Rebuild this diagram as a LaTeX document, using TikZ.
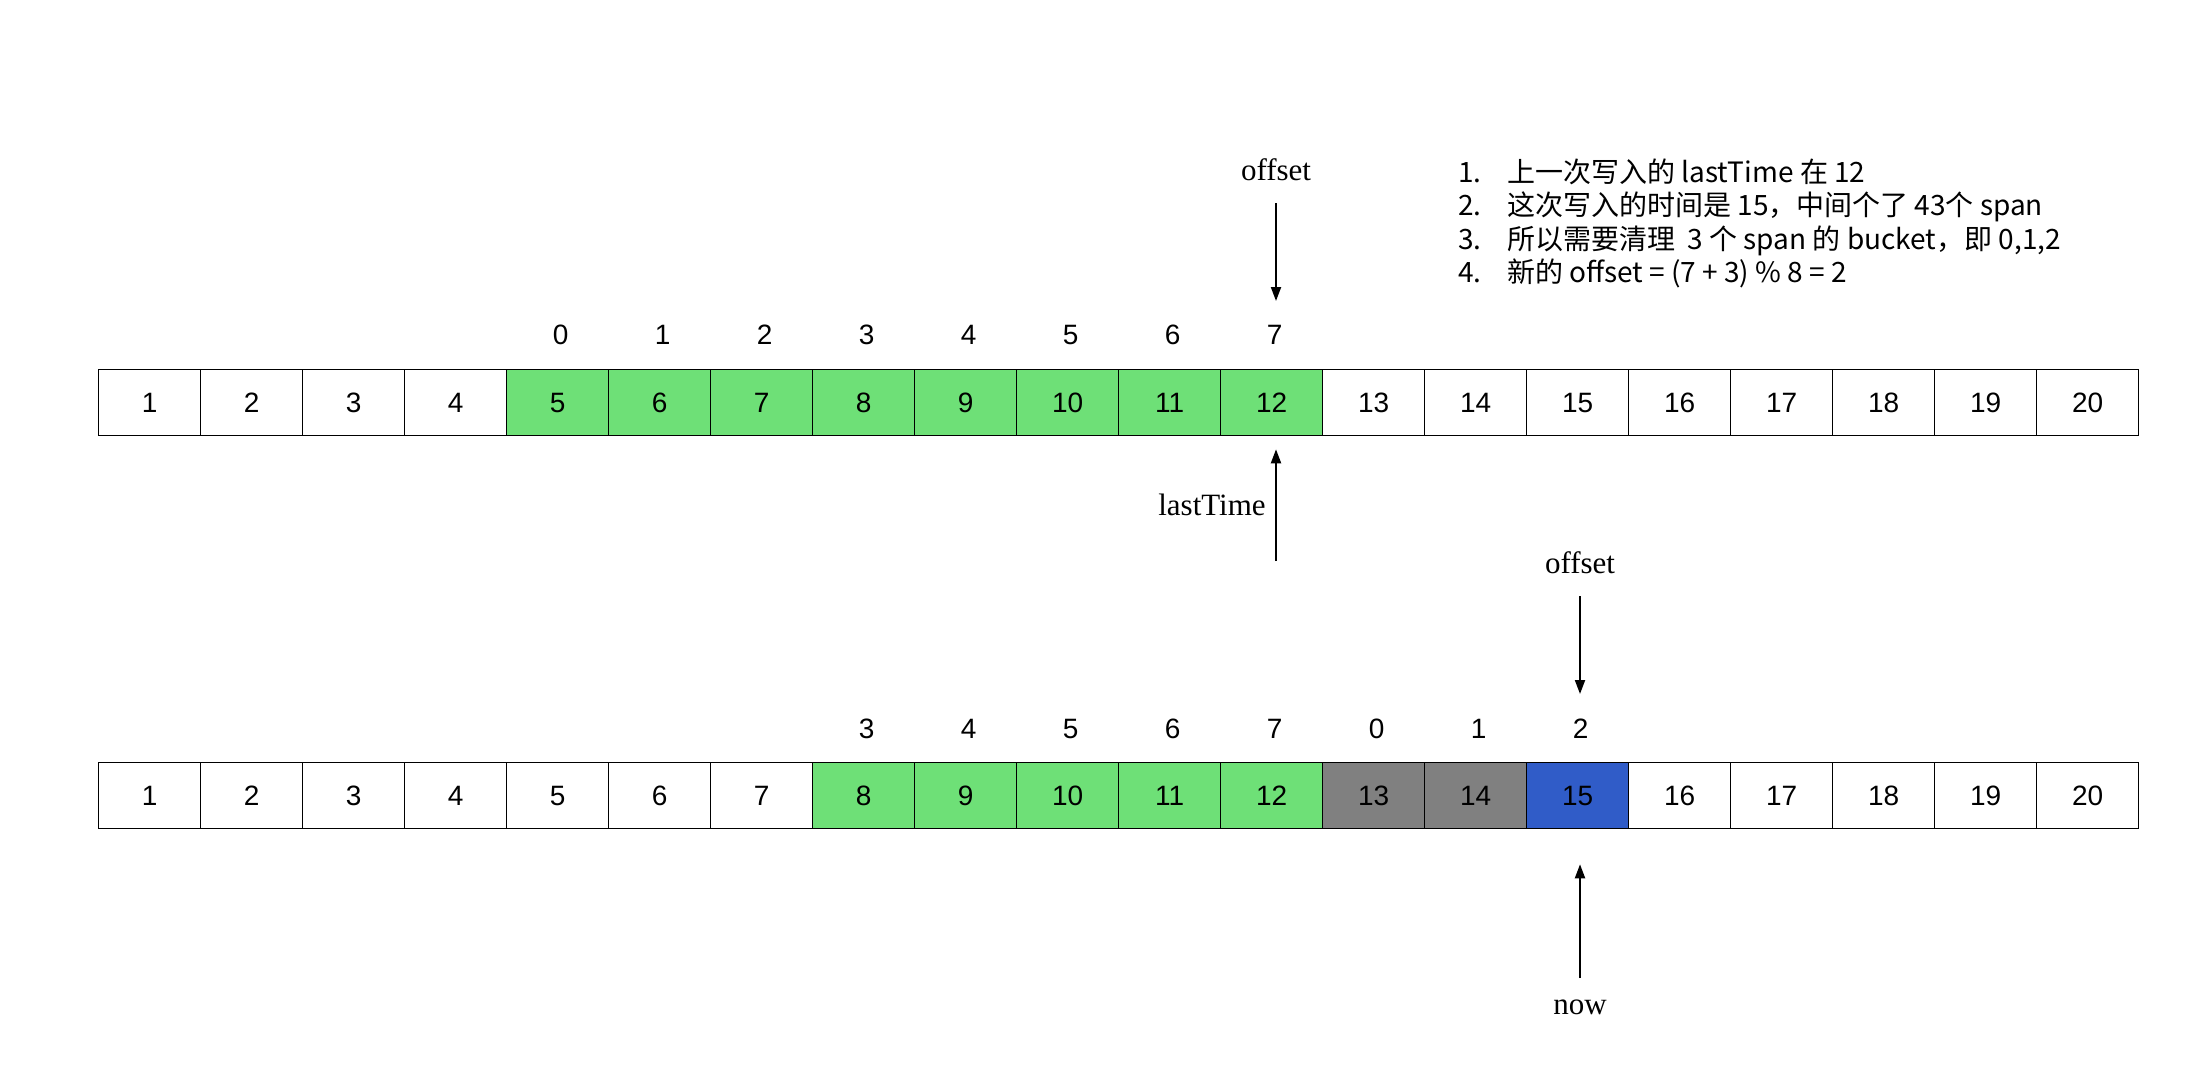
\documentclass[tikz,border=0pt]{standalone}
\usepackage{fontspec}
\setmainfont{Liberation Serif}
\setsansfont{Liberation Sans}
\newfontfamily\cjk{Noto Sans CJK SC}
\usetikzlibrary{arrows.meta,calc}
\definecolor{cgreen}{HTML}{6EE077}
\definecolor{cgray}{HTML}{808080}
\definecolor{cblue}{HTML}{305CC8}
\begin{document}
\begin{tikzpicture}[x=1pt,y=-1pt,
  cell/.style={draw=black, line width=1.3pt, minimum width=102pt, minimum height=66pt, inner sep=0pt, anchor=north west, font=\sffamily\fontsize{28}{28}\selectfont},
  idx/.style={inner sep=0pt, font=\sffamily\fontsize{28}{28}\selectfont},
  lbl/.style={inner sep=0pt, font=\fontsize{31}{31}\selectfont},
  note/.style={inner sep=0pt, anchor=base west, font=\cjk\fontsize{28}{28}\selectfont},
  arr/.style={-{Triangle[length=14pt,width=10pt]}, line width=2pt}]
\useasboundingbox (0,0) rectangle (2188,1084);
\fill[white] (0,0) rectangle (2188,1084);
% row 1
\foreach \i/\c in {1/white,2/white,3/white,4/white,5/cgreen,6/cgreen,7/cgreen,8/cgreen,9/cgreen,10/cgreen,11/cgreen,12/cgreen,13/white,14/white,15/white,16/white,17/white,18/white,19/white,20/white}
  \node[cell, fill=\c] (a\i) at ({98+(\i-1)*102},369) {\i};
% row 2
\foreach \i/\c in {1/white,2/white,3/white,4/white,5/white,6/white,7/white,8/cgreen,9/cgreen,10/cgreen,11/cgreen,12/cgreen,13/cgray,14/cgray,15/cblue,16/white,17/white,18/white,19/white,20/white}
  \node[cell, fill=\c] (b\i) at ({98+(\i-1)*102},762) {\i};
% indices row 1
\foreach \k/\i in {0/5,1/6,2/7,3/8,4/9,5/10,6/11,7/12}
  \node[idx] (ia\i) at ($(a\i.north)+(3,-34)$) {\k};
% indices row 2
\foreach \k/\i in {3/8,4/9,5/10,6/11,7/12,0/13,1/14,2/15}
  \node[idx] (ib\i) at ($(b\i.north)+(3,-33)$) {\k};
% labels
\node[lbl] (off1) at (1276,170) {offset};
\node[lbl] (last) at (1212,505) {lastTime};
\node[lbl] (off2) at (1580,563) {offset};
\node[lbl] (now) at (1580,1007) {now};
\coordinate (lt) at (1276,561);
\coordinate (nw) at (1580,978);
\draw[arr] ([yshift=-33pt]off1.center) -- ([yshift=34pt]ia12.center -| off1);
\draw[arr] (lt) -- ([yshift=-13pt]a12.south -| lt);
\draw[arr] ([yshift=-33pt]off2.center) -- ([yshift=35pt]ib15.center -| off2);
\draw[arr] (nw) -- ([yshift=-35pt]b15.south -| nw);
% notes
\node[note] (t1) at (1458,182) {\makebox[49pt][l]{1.}上一次写入的 lastTime 在 12};
\node[note] (t2) at (1458,215.5) {\makebox[49pt][l]{2.}这次写入的时间是 15，中间个了 43个 span};
\node[note] (t3) at (1458,249) {\makebox[49pt][l]{3.}所以需要清理\ \ 3 个 span 的 bucket，即 0,1,2};
\node[note] (t4) at (1458,282.5) {\makebox[49pt][l]{4.}新的 offset = (7 + 3) \% 8 = 2};
\end{tikzpicture}
\end{document}
